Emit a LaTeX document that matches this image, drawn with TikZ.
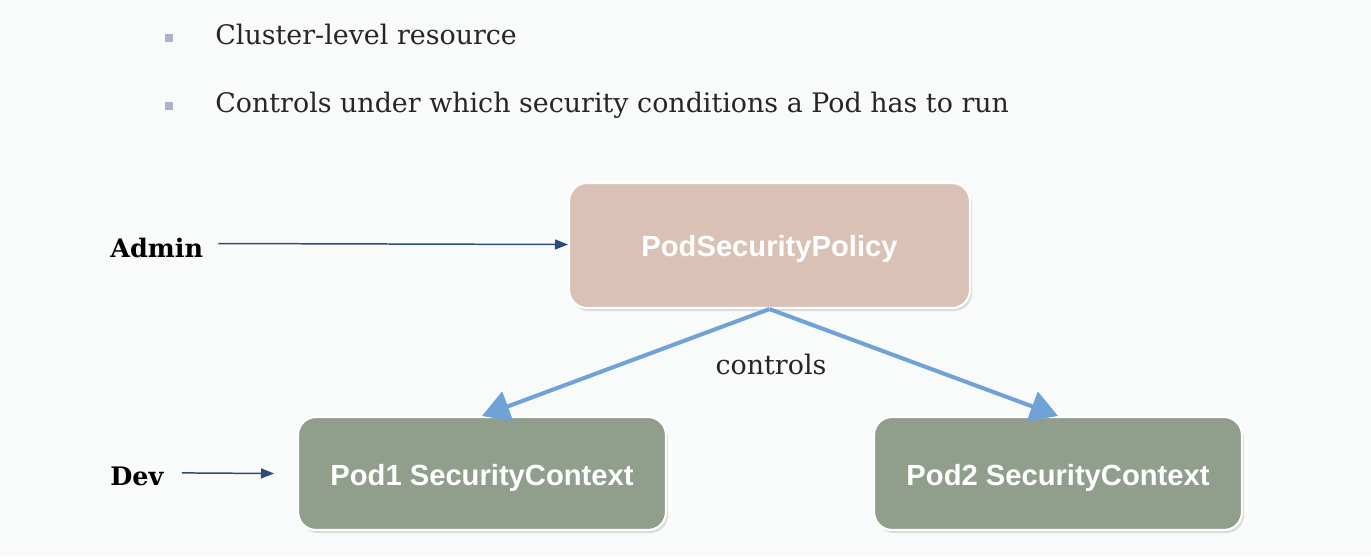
\documentclass[tikz,border=0pt]{standalone}
\usepackage{fontspec}
\setmainfont{DejaVu Serif}
\newfontfamily\boxfont{Liberation Sans}
\usetikzlibrary{arrows.meta,shadows}
\definecolor{bgc}{HTML}{F9FAFA}
\definecolor{pspfill}{HTML}{D9C1B6}
\definecolor{podfill}{HTML}{929E8C}
\definecolor{bulletc}{HTML}{B3AED3}
\definecolor{darkarrow}{HTML}{2F4B7C}
\definecolor{bluearrow}{HTML}{6FA3D8}
\tikzset{
  card/.style={draw=white, line width=1.2pt, rounded corners=0.36cm,
    drop shadow={shadow xshift=0.04cm, shadow yshift=-0.06cm, opacity=0.25},
    text=white, font=\boxfont\bfseries\fontsize{16.6}{19}\selectfont, align=center},
  psp/.style={card, fill=pspfill, minimum width=8.02cm, minimum height=2.5cm},
  pod/.style={card, fill=podfill, minimum width=7.36cm, minimum height=2.26cm},
  bullettext/.style={anchor=base west, inner sep=0pt, font=\fontsize{15.3}{18}\selectfont\color{black!85}},
  bulletmark/.style={fill=bulletc, minimum size=0.16cm, inner sep=0pt},
  role/.style={anchor=base west, inner sep=0pt, font=\bfseries\fontsize{14.5}{17}\selectfont},
  thinarrow/.style={draw=darkarrow, line width=0.85pt, -{Triangle[length=0.26cm,width=0.2cm]}},
  bigarrow/.style={draw=bluearrow, line width=2.3pt, -{Triangle[length=0.55cm,width=0.62cm]}}
}
\begin{document}
\begin{tikzpicture}[x=0.02cm,y=-0.02cm]
\fill[bgc] (0,0) rectangle (1371,556);
\useasboundingbox (0,0) rectangle (1371,556);
\node[bulletmark] (b1) at (169,38) {};
\node[bulletmark] (b2) at (169,106) {};
\node[bullettext] (t1) at (215,44) {Cluster-level resource};
\node[bullettext] (t2) at (215,112) {Controls under which security conditions a Pod has to run};
\node[psp] (psp) at (769.5,245.5) {\raisebox{-1.8pt}[\height][\depth]{PodSecurityPolicy}};
\node[pod] (pod1) at (482,473.5) {\raisebox{-2.8pt}[\height][\depth]{Pod1 SecurityContext}};
\node[pod] (pod2) at (1058,473.5) {\raisebox{-2.8pt}[\height][\depth]{Pod2 SecurityContext}};
\node[role] (admin) at (110,257) {Admin};
\node[role] (dev) at (110,485) {Dev};
\draw[thinarrow] ([xshift=0.3cm,yshift=0.08cm]admin.east) -- ([yshift=0.02cm]psp.west);
\draw[thinarrow] ([xshift=0.36cm,yshift=0.06cm]dev.east) -- ([xshift=-0.46cm]pod1.west);
\draw[bigarrow] (psp.south) -- (pod1.north);
\draw[bigarrow] (psp.south) -- (pod2.north);
\node[font=\fontsize{15.3}{18}\selectfont\color{black!85}] (ctl) at (771,364) {controls};
\end{tikzpicture}
\end{document}
